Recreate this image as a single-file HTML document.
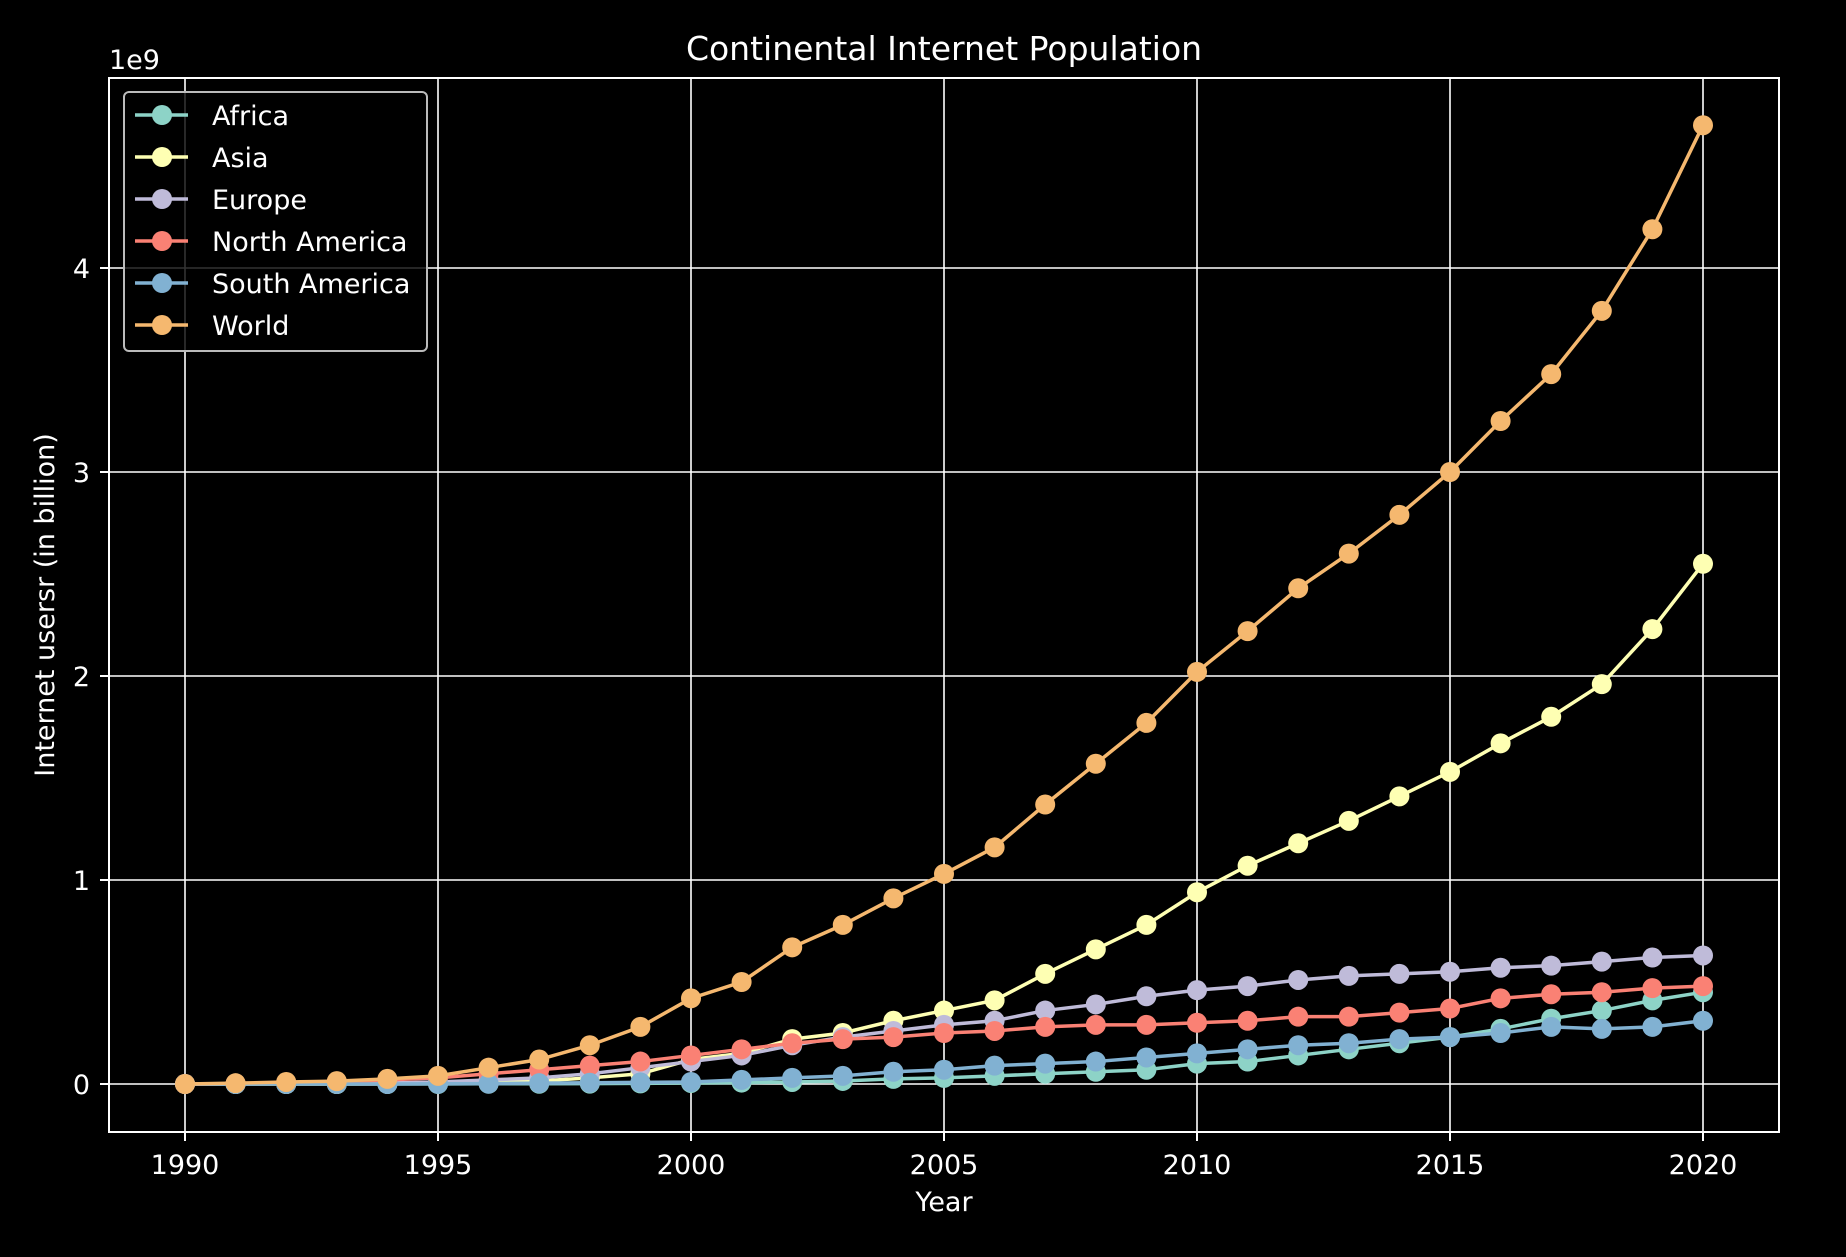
<!DOCTYPE html>
<html><head><meta charset="utf-8"><style>
body{margin:0;background:#000;}
svg text{font-family:"DejaVu Sans","Liberation Sans",sans-serif;fill:#fff;}
</style></head><body>
<svg id="chart" width="1846" height="1252" xmlns="http://www.w3.org/2000/svg">
<rect width="1846" height="1252" fill="#000"/>
<g id="grid"></g>
<g id="series"></g>
<rect x="109" y="78" width="1670" height="1054" fill="none" stroke="#fff" stroke-width="2"/>
<g id="ticks"></g>
<text x="944" y="60" font-size="33" text-anchor="middle">Continental Internet Population</text>
<text x="944" y="1211" font-size="27" text-anchor="middle">Year</text>
<text x="54" y="605" font-size="27" text-anchor="middle" transform="rotate(-90 54 605)">Internet usersr (in billion)</text>
<text x="109" y="69" font-size="27">1e9</text>
<g id="legend"></g>
</svg>
<script>
const years=[];for(let y=1990;y<=2020;y++)years.push(y);
const seriesNames=["Africa","Asia","Europe","North America","South America","World"];
const africa=[0,0,0,0,0,0,.001,.001,.002,.003,.005,.007,.01,.015,.025,.03,.04,.05,.06,.07,.1,.11,.14,.17,.2,.23,.27,.32,.36,.41,.45];
const asia=[0,0,0,0,.001,.003,.008,.015,.03,.05,.12,.15,.22,.25,.31,.36,.41,.54,.66,.78,.94,1.07,1.18,1.29,1.41,1.53,1.67,1.8,1.96,2.23,2.55];
const europe=[0,0,.001,.002,.005,.01,.02,.03,.05,.08,.11,.14,.19,.23,.26,.29,.31,.36,.39,.43,.46,.48,.51,.53,.54,.55,.57,.58,.6,.62,.63];
const northAmerica=[0,.002,.005,.01,.02,.03,.05,.07,.09,.11,.14,.17,.2,.22,.23,.25,.26,.28,.29,.29,.30,.31,.33,.33,.35,.37,.42,.44,.45,.47,.48];
const southAmerica=[0,0,0,0,0,.001,.002,.004,.006,.008,.01,.02,.03,.04,.06,.07,.09,.1,.11,.13,.15,.17,.19,.2,.22,.23,.25,.28,.27,.28,.31];
const world=[0,.004,.01,.014,.025,.04,.08,.12,.19,.28,.42,.5,.67,.78,.91,1.03,1.16,1.37,1.57,1.77,2.02,2.22,2.43,2.6,2.79,3.0,3.25,3.48,3.79,4.19,4.7];
const xTicks=[1990,1995,2000,2005,2010,2015,2020];
const yTicks=[0,1,2,3,4];
const colors=["#8dd3c7","#feffb3","#bfbbd9","#fa8174","#81b1d2","#f5b86f"];
const allSeries=[africa,asia,europe,northAmerica,southAmerica,world];
const NS="http://www.w3.org/2000/svg";
const xs=v=>185+(v-1990)*(1703-185)/30;
const ys=v=>1084-v*204;
function mk(tag,attrs,parent){const e=document.createElementNS(NS,tag);for(const k in attrs)e.setAttribute(k,attrs[k]);parent.appendChild(e);return e;}
const grid=document.getElementById('grid'),ticks=document.getElementById('ticks'),ser=document.getElementById('series'),leg=document.getElementById('legend');
xTicks.forEach(t=>{
 const l=mk('line',{x1:xs(t),x2:xs(t),y1:78,y2:1132,stroke:'#fff','stroke-width':1.6},grid);
 
 
 mk('line',{x1:xs(t),x2:xs(t),y1:1132,y2:1141,stroke:'#fff','stroke-width':2},ticks);
 const tx=mk('text',{x:xs(t),y:1174,'font-size':27,'text-anchor':'middle'},ticks);tx.textContent=t;
 
 
});
yTicks.forEach(t=>{
 const l=mk('line',{x1:109,x2:1779,y1:ys(t),y2:ys(t),stroke:'#fff','stroke-width':1.6},grid);
 
 
 mk('line',{x1:100,x2:109,y1:ys(t),y2:ys(t),stroke:'#fff','stroke-width':2},ticks);
 const tx=mk('text',{x:90,y:ys(t)+10,'font-size':27,'text-anchor':'end'},ticks);tx.textContent=t;
 
 
});
allSeries.forEach((d,i)=>{
 const g=mk('g',{},ser);
 
 
 mk('polyline',{points:d.map((v,j)=>xs(years[j])+','+ys(v)).join(' '),fill:'none',stroke:colors[i],'stroke-width':3.5},g);
 d.forEach((v,j)=>{const c=mk('circle',{cx:xs(years[j]),cy:ys(v),r:10,fill:colors[i]},g);
  
  });
});
const lb=mk('rect',{x:124,y:92,width:303,height:259,rx:5,fill:'#000',stroke:'#bbb','stroke-width':2,'fill-opacity':0.8},leg);


seriesNames.forEach((n,i)=>{
 const y=115+i*42;
 const g=mk('g',{},leg);
 
 
 mk('line',{x1:135,x2:188,y1:y,y2:y,stroke:colors[i],'stroke-width':3.5},g);
 mk('circle',{cx:162,cy:y,r:10,fill:colors[i]},g);
 const t=mk('text',{x:212,y:y+10,'font-size':27},g);t.textContent=n;
});
</script>
</body></html>
